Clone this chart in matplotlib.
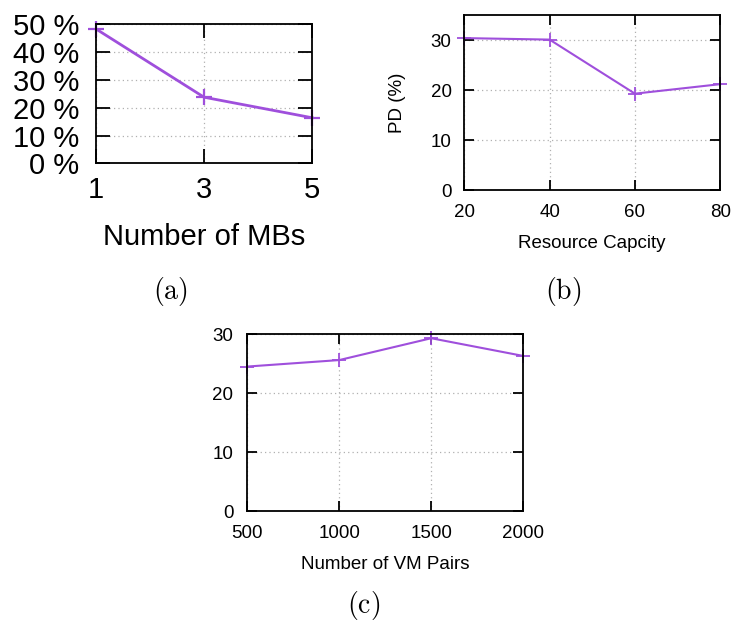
import matplotlib
matplotlib.use('Agg')
import matplotlib.pyplot as plt
from matplotlib.ticker import FuncFormatter

# panel (a): number of middleboxes
mbs = [1, 3, 5]
mbs_pd = [48.4, 23.8, 16.4]

# panel (b): resource capacity
capacity = [20, 40, 60, 80]
capacity_pd = [30.4, 30.1, 19.3, 21.2]

# panel (c): number of VM pairs
vm_pairs = [500, 1000, 1500, 2000]
vm_pd = [24.5, 25.6, 29.3, 26.3]

plt.rcParams['font.family'] = ['Liberation Sans', 'DejaVu Sans']
plt.rcParams['mathtext.fontset'] = 'cm'

line_color = '#9f4fdc'
grid_style = dict(color='#b0b0b0', linestyle=(0, (1, 2.5)), linewidth=0.9)


def style_axes(ax, size, length):
    for s in ax.spines.values():
        s.set_linewidth(1.3)
    ax.tick_params(direction='in', top=True, right=True, length=length,
                   width=1.3, labelsize=size, colors='black')
    ax.grid(True, **grid_style)
    ax.set_axisbelow(True)


fig = plt.figure(figsize=(7.38, 6.28), dpi=100)

# (a)
ax1 = fig.add_axes([0.130, 0.740, 0.293, 0.221])
ax1.plot(mbs, mbs_pd, color=line_color, lw=2.0, marker='+', ms=12, mew=1.6, clip_on=False)
ax1.set_xlim(1, 5)
ax1.set_ylim(0, 50)
ax1.set_xticks(mbs)
ax1.set_yticks([0, 10, 20, 30, 40, 50])
ax1.yaxis.set_major_formatter(FuncFormatter(lambda v, p: f'{int(v)} %'))
style_axes(ax1, 21, 10)
ax1.tick_params(axis='x', pad=9)
ax1.tick_params(axis='y', pad=12)
ax1.set_xlabel('Number of MBs', fontsize=21, labelpad=14)

# (b)
ax2 = fig.add_axes([0.629, 0.697, 0.347, 0.279])
ax2.plot(capacity, capacity_pd, color=line_color, lw=1.5, marker='+', ms=10, mew=1.3, clip_on=False)
ax2.set_xlim(20, 80)
ax2.set_ylim(0, 35)
ax2.set_xticks(capacity)
ax2.set_yticks([0, 10, 20, 30])
style_axes(ax2, 13.5, 7)
ax2.tick_params(axis='x', pad=10)
ax2.tick_params(axis='y', pad=9)
ax2.set_xlabel('Resource Capcity', fontsize=13.5, labelpad=10)
ax2.set_ylabel('PD (%)', fontsize=13.5, labelpad=18)

# (c)
ax3 = fig.add_axes([0.335, 0.186, 0.374, 0.282])
ax3.plot(vm_pairs, vm_pd, color=line_color, lw=1.5, marker='+', ms=10, mew=1.3, clip_on=False)
ax3.set_xlim(500, 2000)
ax3.set_ylim(0, 30)
ax3.set_xticks(vm_pairs)
ax3.set_yticks([0, 10, 20, 30])
style_axes(ax3, 13.5, 7)
ax3.tick_params(axis='x', pad=10)
ax3.tick_params(axis='y', pad=10)
ax3.set_xlabel('Number of VM Pairs', fontsize=13.5, labelpad=10)

# sub-figure captions
fig.text(170 / 738, 1 - 291 / 628, r'$\mathrm{(a)}$', fontsize=20, ha='center', va='center')
fig.text(563 / 738, 1 - 291 / 628, r'$\mathrm{(b)}$', fontsize=20, ha='center', va='center')
fig.text(364 / 738, 1 - 606 / 628, r'$\mathrm{(c)}$', fontsize=20, ha='center', va='center')

fig.savefig('out.png', dpi=100)
